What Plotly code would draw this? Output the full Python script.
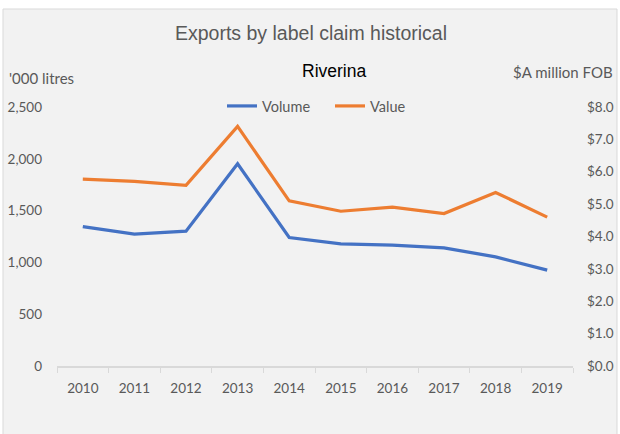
import plotly.graph_objects as go

years = ["2010", "2011", "2012", "2013", "2014", "2015", "2016", "2017", "2018", "2019"]
volume = [1345, 1273, 1302, 1952, 1240, 1179, 1166, 1140, 1053, 925]
value = [5.77, 5.70, 5.58, 7.40, 5.10, 4.78, 4.91, 4.71, 5.36, 4.60]
left_ticks = [0, 500, 1000, 1500, 2000, 2500]
right_ticks = [0, 1, 2, 3, 4, 5, 6, 7, 8]

W, H = 620, 434
L, R, T, B = 57, 47, 107, 68
pw, ph = W - L - R, H - T - B

def px_x(p):
    return (p - L) / pw

def px_y(p):
    return (H - B - p) / ph

tick_font = dict(family="Lato, Open Sans, sans-serif", size=13.5, color="#595959")

fig = go.Figure()
fig.add_trace(go.Scatter(x=years, y=volume, name="Volume", mode="lines",
                         line=dict(color="#4472C4", width=3.2), yaxis="y"))
fig.add_trace(go.Scatter(x=years, y=value, name="Value", mode="lines",
                         line=dict(color="#ED7D31", width=3.2), yaxis="y2"))

fig.update_layout(
    width=W, height=H,
    margin=dict(l=L, r=R, t=T, b=B, autoexpand=False),
    paper_bgcolor="white",
    plot_bgcolor="#f2f2f2",
    showlegend=True,
    legend=dict(orientation="h", x=px_x(222), xanchor="left", y=px_y(106), yanchor="middle",
                bgcolor="rgba(0,0,0,0)", font=dict(family="Lato, Open Sans, sans-serif", size=14.5, color="#595959"),
                entrywidth=63, entrywidthmode="pixels", itemwidth=30),
    xaxis=dict(type="category", range=[-0.5, len(years) - 0.5], showgrid=False, showline=True,
               linecolor="#d9d9d9", linewidth=1.5, automargin=False,
               ticks="outside", ticklen=5, tickcolor="#d9d9d9", tickson="boundaries",
               tickfont=tick_font, ticklabelstandoff=9, zeroline=False),
    yaxis=dict(range=[0, 2500], tickvals=left_ticks, tickformat=",d", showgrid=False, automargin=False,
               zeroline=False, showline=False, tickfont=tick_font, ticklabelstandoff=14),
    yaxis2=dict(range=[0, 8], tickvals=right_ticks, tickformat="$.1f", overlaying="y", side="right",
                automargin=False,
                showgrid=False, zeroline=False, showline=False, tickfont=tick_font, ticklabelstandoff=13),
    shapes=[dict(type="rect", xref="paper", yref="paper", layer="below",
                 x0=px_x(3), x1=px_x(617), y0=px_y(440), y1=px_y(9),
                 fillcolor="#f2f2f2", line=dict(color="#d9d9d9", width=1))],
    annotations=[
        dict(text="Exports by label claim historical", xref="paper", yref="paper",
             x=px_x(311), y=px_y(33), xanchor="center", yanchor="middle", showarrow=False,
             font=dict(family="Liberation Sans, Arial, sans-serif", size=19.5, color="#595959")),
        dict(text="Riverina", xref="paper", yref="paper",
             x=px_x(334), y=px_y(71), xanchor="center", yanchor="middle", showarrow=False,
             font=dict(family="Liberation Sans, Arial, sans-serif", size=17.5, color="#000000")),
        dict(text="'000 litres", xref="paper", yref="paper",
             x=px_x(7), y=px_y(78), xanchor="left", yanchor="middle", showarrow=False,
             font=dict(family="Lato, Open Sans, sans-serif", size=15, color="#595959")),
        dict(text="$A million FOB", xref="paper", yref="paper",
             x=px_x(615), y=px_y(72), xanchor="right", yanchor="middle", showarrow=False,
             font=dict(family="Lato, Open Sans, sans-serif", size=15, color="#595959")),
    ],
)

fig.write_html("out.html", config={"displayModeBar": False},
               post_script="document.body.style.margin='0';document.body.style.overflow='hidden';")
